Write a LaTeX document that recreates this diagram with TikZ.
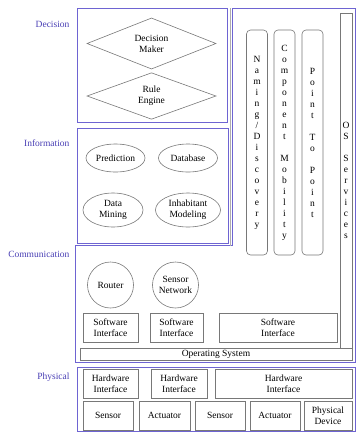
\documentclass[tikz,border=0pt]{standalone}
\usepackage{fontspec}
\setmainfont{Liberation Serif}
\usetikzlibrary{shapes.geometric}
\definecolor{layerblue}{RGB}{110,100,210}
\definecolor{labelblue}{RGB}{72,62,180}
\definecolor{partgray}{RGB}{120,120,120}
\begin{document}
\begin{tikzpicture}[x=1pt,y=-1pt,font=\fontsize{9.5}{11}\selectfont,
  layer/.style={draw=layerblue,line width=1pt},
  layername/.style={anchor=east,text=labelblue},
  part/.style={draw=partgray,line width=0.6pt,align=center,inner sep=0pt},
  rule/.style={part,diamond},
  store/.style={part,ellipse},
  hub/.style={part,circle},
  service/.style={part,rounded corners=4pt,minimum width=21},
  unit/.style={part,minimum height=29}]
\useasboundingbox (0,0) rectangle (358,432);
%
\draw[layer](77,8) rectangle (227,122);
\draw[layer](77,128) rectangle (228,243);
\draw[layer](232,8)--(355,8)--(355,362)--(75,362)--(75,245.5)--(232,245.5)--cycle;
\draw[partgray!60](229.8,8)--(229.8,245.5);
\draw[layer](77,367) rectangle (355,431.5);
%
\node[layername](decision) at (73,24){Decision};
\node[layername](information) at (73,143){Information};
\node[layername](communication) at (73,254){Communication};
\node[layername](physical) at (73,377){Physical};
%
\node[rule,minimum width=129,minimum height=49](maker) at (151.5,43.5){Decision\\Maker};
\node[rule,minimum width=129,minimum height=45](engine) at (151.5,96){Rule\\Engine};
%
\node[store,minimum width=59,minimum height=28](prediction) at (115.5,158){Prediction};
\node[store,minimum width=59,minimum height=28](database) at (188,158){Database};
\node[store,minimum width=60,minimum height=34](mining) at (113,210){Data\\Mining};
\node[store,minimum width=65,minimum height=34](modeling) at (188,210){Inhabitant\\Modeling};
%
\node[service,minimum height=225](naming) at (257,142.5){N\\a\\m\\i\\n\\g\\/\\D\\i\\s\\c\\o\\v\\e\\r\\y};
\node[service,minimum height=225](mobility) at (284.5,142.5){C\\o\\m\\p\\o\\n\\e\\n\\t\\[11pt]M\\o\\b\\i\\l\\i\\t\\y};
\node[service,minimum height=225](p2p) at (312.5,142.5){P\\o\\i\\n\\t\\[11pt]T\\o\\[11pt]P\\o\\i\\n\\t};
\node[part,minimum width=12,minimum height=335](ossvc) at (346,180.5){O\\S\\[11pt]S\\e\\r\\v\\i\\c\\e\\s};
%
\node[hub,minimum size=46](router) at (110.5,285){Router};
\node[hub,minimum size=46](sensornet) at (175.5,285){Sensor\\Network};
\node[unit,minimum width=55](swA) at (110.5,327.5){Software\\Interface};
\node[unit,minimum width=53](swB) at (176.5,327.5){Software\\Interface};
\node[unit,minimum width=118](swC) at (278,327.5){Software\\Interface};
\node[part,minimum width=272,minimum height=12](os) at (216,354){Operating System};
%
\node[unit,minimum width=55](hwA) at (110.5,383.5){Hardware\\Interface};
\node[unit,minimum width=56](hwB) at (179,383.5){Hardware\\Interface};
\node[unit,minimum width=137](hwC) at (283.5,383.5){Hardware\\Interface};
\node[unit,minimum width=50](sensorA) at (108,415.5){Sensor};
\node[unit,minimum width=51](actA) at (164.5,415.5){Actuator};
\node[unit,minimum width=50](sensorB) at (220,415.5){Sensor};
\node[unit,minimum width=50](actB) at (275,415.5){Actuator};
\node[unit,minimum width=48](device) at (328,415.5){Physical\\Device};
\end{tikzpicture}
\end{document}
